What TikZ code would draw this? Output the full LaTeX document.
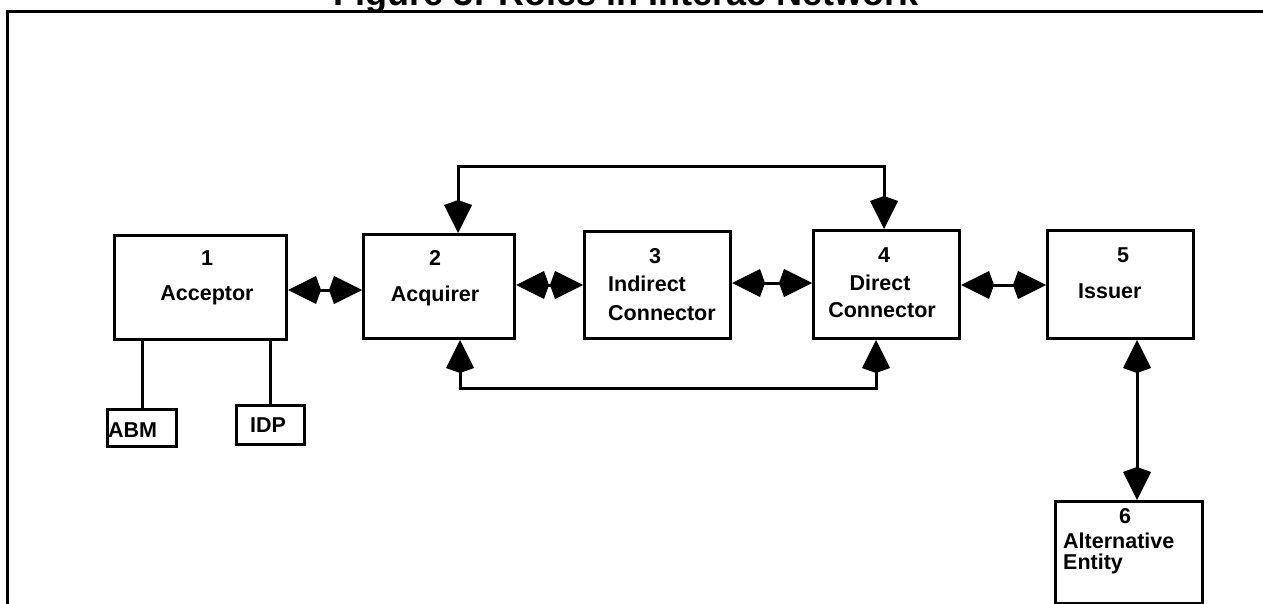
\documentclass[tikz,border=0pt]{standalone}
\usepackage{fontspec}
\setmainfont{Liberation Sans}
\usetikzlibrary{arrows.meta}
\tikzset{
  box/.style={draw, line width=3pt, inner sep=0pt, anchor=north west},
  lbl/.style={inner sep=0pt, anchor=base, font=\fontsize{21.5}{24}\selectfont\bfseries},
  lbll/.style={lbl, anchor=base west},
  tip/.tip={Kite[length=33pt, width=28pt, inset=5pt]},
  dbl/.style={line width=3pt, {tip}-{tip}},
  plain/.style={line width=3pt},
}
\begin{document}
\begin{tikzpicture}[x=1pt, y=-1pt]
\useasboundingbox (0,0) rectangle (1263,604);
\clip (0,0) rectangle (1263,604);
% frame
\draw[line width=3pt] (7,610) -- (7,12) -- (1270,12);
% title (cut off at the top edge, as in the reference)
\node[anchor=base west, inner sep=0pt, font=\fontsize{36}{40}\selectfont\bfseries] (title) at (333,6) {Figure 3: Roles in Interac Network};
% boxes
\node[box, minimum width=172pt, minimum height=104pt] (b1) at (113,234) {};
\node[box, minimum width=151pt, minimum height=104pt] (b2) at (362,233) {};
\node[box, minimum width=146pt, minimum height=107pt] (b3) at (583,230) {};
\node[box, minimum width=146pt, minimum height=108pt] (b4) at (812,229) {};
\node[box, minimum width=146pt, minimum height=108pt] (b5) at (1046,229) {};
\node[box, minimum width=147pt, minimum height=102pt] (b6) at (1054,500) {};
\node[box, minimum width=69pt, minimum height=37pt] (abm) at (106,408) {};
\node[box, minimum width=68pt, minimum height=39pt] (idp) at (235,404) {};
% labels
\node[lbl] (t1n) at (207,265) {1};
\node[lbl] (t1) at (207,300) {Acceptor};
\node[lbl] (t2n) at (435,265) {2};
\node[lbl] (t2) at (435,301) {Acquirer};
\node[lbl] (t3n) at (655,263) {3};
\node[lbll] (t3a) at (608,291) {Indirect};
\node[lbll] (t3b) at (608,320) {Connector};
\node[lbl] (t4n) at (884,262) {4};
\node[lbl] (t4a) at (880,290) {Direct};
\node[lbl] (t4b) at (882,317) {Connector};
\node[lbl] (t5n) at (1123,262) {5};
\node[lbll] (t5) at (1078,298) {Issuer};
\node[lbl] (t6n) at (1125,523) {6};
\node[lbll] (t6a) at (1063,548) {Alternative};
\node[lbll] (t6b) at (1063,569) {Entity};
\node[lbll] (tabm) at (108,437) {ABM};
\node[lbl] (tidp) at (268,432) {IDP};
% connectors
\coordinate (y12) at (0,290);
\coordinate (y23) at (0,285);
\coordinate (y34) at (0,283);
\coordinate (y45) at (0,285);
\draw[dbl] (b1.east |- y12) -- (b2.west |- y12);
\draw[dbl] (b2.east |- y23) -- (b3.west |- y23);
\draw[dbl] (b3.east |- y34) -- (b4.west |- y34);
\draw[dbl] (b4.east |- y45) -- (b5.west |- y45);
\coordinate (x56) at (1137,0);
\draw[dbl] (b5.south -| x56) -- (b6.north -| x56);
\coordinate (tl) at (458,167);
\coordinate (tr) at (884,167);
\draw[dbl] (b2.north -| tl) -- (tl) -- (tr) -- (b4.north -| tr);
\coordinate (bl) at (460,388);
\coordinate (br) at (876,388);
\draw[dbl] (b2.south -| bl) -- (bl) -- (br) -- (b4.south -| br);
\coordinate (xabm) at (142,0);
\draw[plain] (abm.north -| xabm) -- (b1.south -| xabm);
\draw[plain] (idp.north) -- (b1.south -| idp.north);
\end{tikzpicture}
\end{document}
